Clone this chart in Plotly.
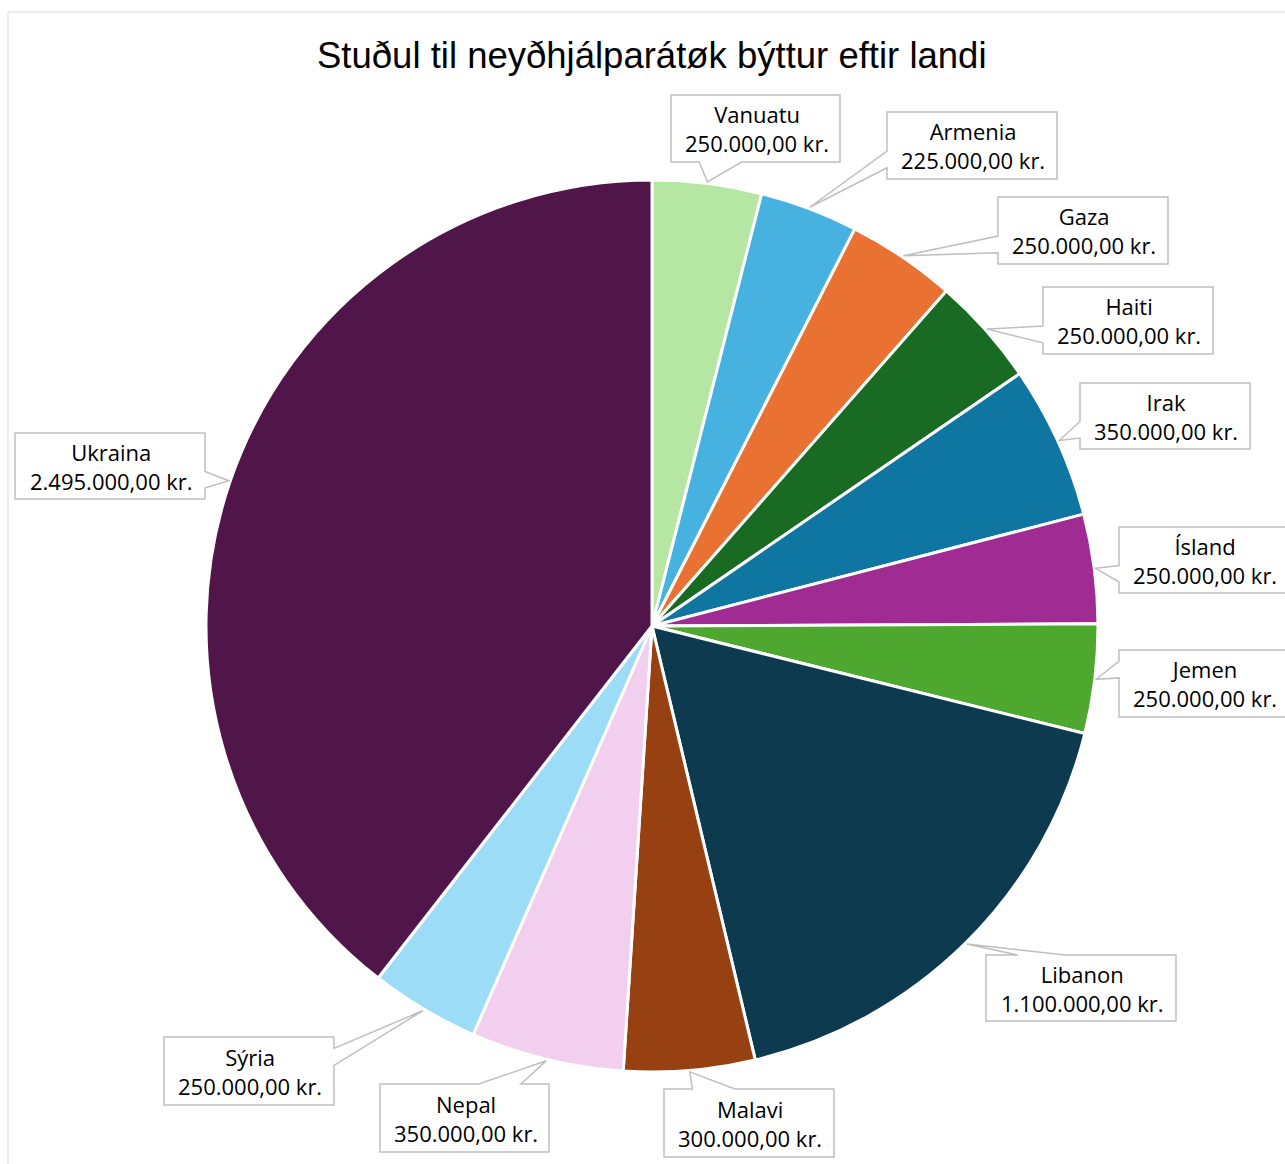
import math
import plotly.graph_objects as go

# ---------------- data ----------------
countries = ["Vanuatu", "Armenia", "Gaza", "Haiti", "Irak", "Ísland", "Jemen",
             "Libanon", "Malavi", "Nepal", "Sýria", "Ukraina"]
amounts = [250000, 225000, 250000, 250000, 350000, 250000, 250000,
           1100000, 300000, 350000, 250000, 2495000]
title_text = "Stuðul til neyðhjálparátøk býttur eftir landi"
currency_suffix = " kr."

# ---------------- styles / layout ----------------
slice_colors = ["#B5E6A2", "#47B1E0", "#E97132", "#196B24", "#0E76A0", "#A02B93",
                "#4EA72E", "#0E3A50", "#974012", "#F2CFEE", "#9CDCF6", "#501549"]

W, H = 1285, 1164
CX, CY, R = 652, 626, 446          # pie centre / radius in px
TITLE_FONT = "Liberation Sans, Arial, sans-serif"
LABEL_FONT = "Open Sans, Liberation Sans, sans-serif"

# label box placement: (centre x, centre y, width, height) in px
label_boxes = [
    (755.5, 128.5, 169, 67),
    (972.0, 145.5, 170, 67),
    (1083.0, 230.5, 170, 67),
    (1128.0, 320.5, 170, 67),
    (1165.0, 416.0, 170, 66),
    (1203.5, 560.0, 169, 66),
    (1203.5, 683.5, 169, 67),
    (1081.0, 988.0, 190, 66),
    (749.0, 1123.0, 170, 68),
    (464.5, 1118.0, 169, 68),
    (249.0, 1071.0, 170, 68),
    (110.0, 466.0, 190, 66),
]


def px(x, y):
    return x / W, 1 - y / H


def fmt_amount(v):
    s = f"{v:,.2f}"
    return s.replace(",", "X").replace(".", ",").replace("X", ".") + currency_suffix


def callout_path(cx, cy, w, h, xPos, yPos):
    """Wedge-rectangle callout outline (OOXML wedgeRectCallout geometry)."""
    l, t, r, b = cx - w / 2, cy - h / 2, cx + w / 2, cy + h / 2
    dxPos, dyPos = xPos - cx, yPos - cy
    dz = abs(dyPos * w) - abs(dxPos * h)
    xg1, xg2 = (7, 10) if dxPos > 0 else (2, 5)
    yg1, yg2 = (7, 10) if dyPos > 0 else (2, 5)
    x1, x2 = l + w * xg1 / 12, l + w * xg2 / 12
    y1, y2 = t + h * yg1 / 12, t + h * yg2 / 12
    t1 = l if dxPos > 0 else xPos
    xl = l if dz > 0 else t1
    t2 = x1 if dyPos > 0 else xPos
    xt = t2 if dz > 0 else x1
    t3 = xPos if dxPos > 0 else r
    xr = r if dz > 0 else t3
    t4 = xPos if dyPos > 0 else x1
    xb = t4 if dz > 0 else x1
    t5 = y1 if dxPos > 0 else yPos
    yl = y1 if dz > 0 else t5
    t6 = t if dyPos > 0 else yPos
    yt = t6 if dz > 0 else t
    t7 = yPos if dxPos > 0 else y1
    yr = y1 if dz > 0 else t7
    t8 = yPos if dyPos > 0 else b
    yb = t8 if dz > 0 else b
    pts = [(l, t), (x1, t), (xt, yt), (x2, t), (r, t), (r, y1), (xr, yr), (r, y2),
           (r, b), (x2, b), (xb, yb), (x1, b), (l, b), (l, y2), (xl, yl), (l, y1)]
    segs = []
    for i, (x, y) in enumerate(pts):
        X, Y = px(x, y)
        segs.append(("M" if i == 0 else "L") + f"{X:.6f},{Y:.6f}")
    return " ".join(segs) + " Z"


fig = go.Figure()
fig.add_trace(go.Pie(
    labels=countries,
    values=amounts,
    sort=False,
    direction="clockwise",
    rotation=0,
    textinfo="none",
    hoverinfo="label+value",
    showlegend=False,
    marker=dict(colors=slice_colors, line=dict(color="white", width=3)),
    domain=dict(x=[(CX - R) / W, (CX + R) / W], y=[1 - (CY + R) / H, 1 - (CY - R) / H]),
))

shapes = []
annotations = []

# chart border
shapes.append(dict(type="rect", xref="paper", yref="paper",
                   x0=8 / W, x1=(W + 30) / W, y0=-30 / H, y1=1 - 12 / H,
                   line=dict(color="#D9D9D9", width=1), fillcolor="rgba(0,0,0,0)",
                   layer="below"))

total = sum(amounts)
cum = 0.0
for name, v, (bx, by, bw, bh) in zip(countries, amounts, label_boxes):
    mid = (cum + v / 2) / total * 2 * math.pi
    cum += v
    tx = CX + (R + 1.5) * math.sin(mid)
    ty = CY - (R + 1.5) * math.cos(mid)
    shapes.append(dict(type="path", xref="paper", yref="paper",
                       path=callout_path(bx, by, bw, bh, tx, ty),
                       fillcolor="white", line=dict(color="#BFBFBF", width=1.5),
                       layer="above"))
    ax, ay = px(bx + 1, by)
    annotations.append(dict(x=ax, y=ay, xref="paper", yref="paper",
                            xanchor="center", yanchor="middle", showarrow=False,
                            align="center",
                            text=f"{name}<br>{fmt_amount(v)}",
                            font=dict(family=LABEL_FONT, size=22, color="#000000")))

tx_, ty_ = px(651.5, 55)
annotations.append(dict(x=tx_, y=ty_, xref="paper", yref="paper",
                        xanchor="center", yanchor="middle", showarrow=False,
                        text=title_text,
                        font=dict(family=TITLE_FONT, size=36.5, color="#000000")))

fig.update_layout(
    width=W, height=H, autosize=False,
    margin=dict(l=0, r=0, t=0, b=0, pad=0),
    paper_bgcolor="white", plot_bgcolor="white",
    shapes=shapes, annotations=annotations,
)

fig.write_html("out.html", config={"displayModeBar": False},
               post_script="document.body.style.margin='0';")
